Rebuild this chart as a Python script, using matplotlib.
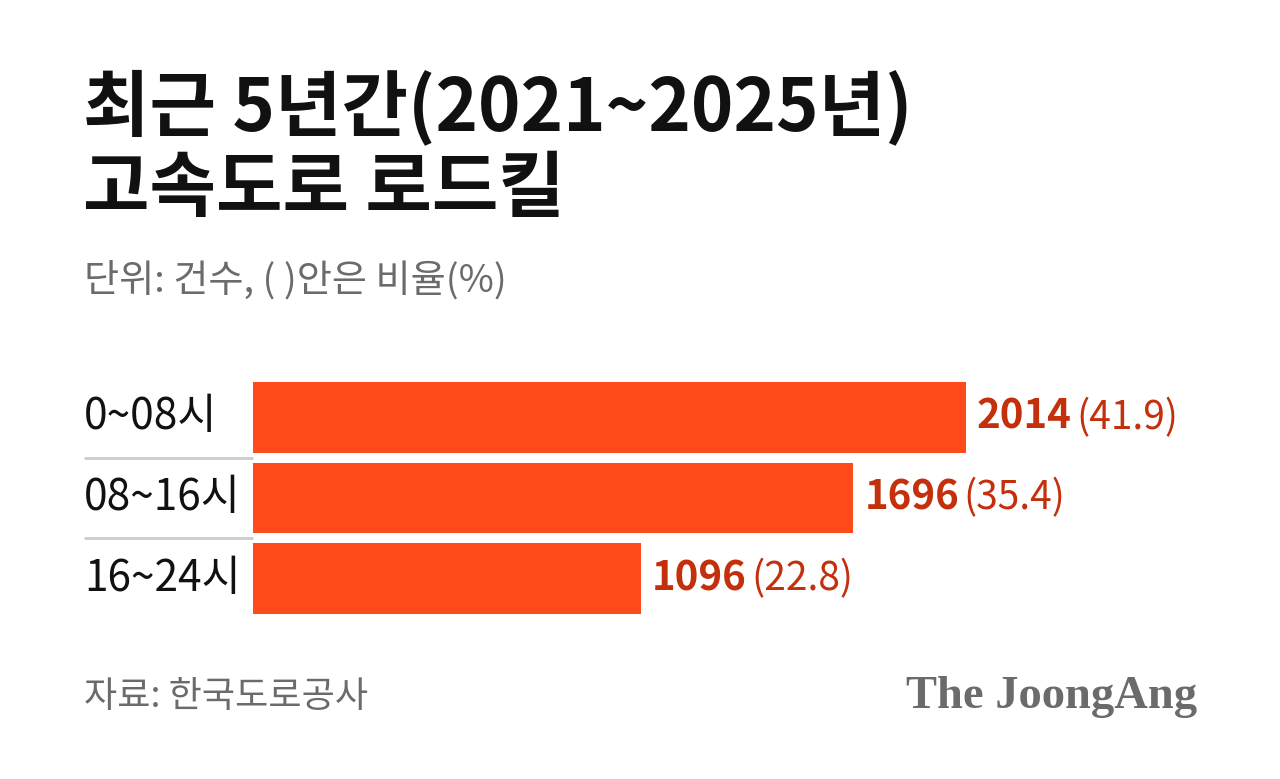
import matplotlib
matplotlib.use("Agg")
import matplotlib.pyplot as plt
from matplotlib.transforms import blended_transform_factory

plt.rcParams['font.family'] = ['Noto Sans CJK KR', 'DejaVu Sans']

categories = ["0~08시", "08~16시", "16~24시"]
counts = [2014, 1696, 1096]
shares = [41.9, 35.4, 22.8]

title_lines = ["최근 5년간(2021~2025년)", "고속도로 로드킬"]
subtitle = "단위: 건수, ( )안은 비율(%)"
source = "자료: 한국도로공사"
logo = "The JoongAng"

W, H = 1280, 779
fig = plt.figure(figsize=(W / 100, H / 100), dpi=100)
fig.patch.set_facecolor("white")

def fx(px):
    return px / W

def fy(py):
    return 1 - py / H

# titles
for ln, py in zip(title_lines, [108, 190]):
    fig.text(fx(83), fy(py), ln, fontsize=52, fontweight='heavy',
             color='#111111', va='center', ha='left')
fig.text(fx(84), fy(281), subtitle, fontsize=27.5, color='#6b6b6b',
         va='center', ha='left')

# bar axes
top_px, bot_px = 377, 619
left_px, right_px = 253, 1280
ax = fig.add_axes([fx(left_px), fy(bot_px), fx(right_px - left_px),
                   (bot_px - top_px) / H])
ypos = list(range(len(categories)))
ax.barh(ypos, counts, height=0.88, color='#ff4b19', edgecolor='none')
xmax = 2014 * (right_px - left_px) / (966 - left_px)
ax.set_xlim(0, xmax)
ax.set_ylim(len(categories) - 0.5, -0.5)
ax.axis('off')

# category labels and separators
trans = blended_transform_factory(fig.transFigure, ax.transData)
for i, c in enumerate(categories):
    ax.text(fx(84), i, c, transform=trans, fontsize=30.5, color='#111111',
            va='center', ha='left')
for i in range(len(categories) - 1):
    ax.plot([fx(84), fx(left_px)], [i + 0.5, i + 0.5], transform=trans,
            color='#cccccc', lw=2, clip_on=False, solid_capstyle='butt')

# value labels
gap = xmax * 11 / (right_px - left_px)
for i, (v, p) in enumerate(zip(counts, shares)):
    t = ax.text(v + gap, i, f"{v}", fontsize=29, fontweight='bold',
                color='#c4300c', va='center', ha='left')
    ax.annotate(f"({p})", xy=(1, 0), xycoords=t, xytext=(3, 0),
                textcoords='offset points', fontsize=28, color='#c4300c',
                va='bottom', ha='left')

# footer
fig.text(fx(84), fy(697), source, fontsize=26, color='#6b6b6b',
         va='center', ha='left')
fig.text(fx(1197), fy(697), logo, fontsize=33.5, fontweight='bold',
         family=['Liberation Serif', 'DejaVu Serif'], color='#6b6b6b',
         va='center', ha='right')

fig.savefig("out.png", dpi=100, facecolor='white')
